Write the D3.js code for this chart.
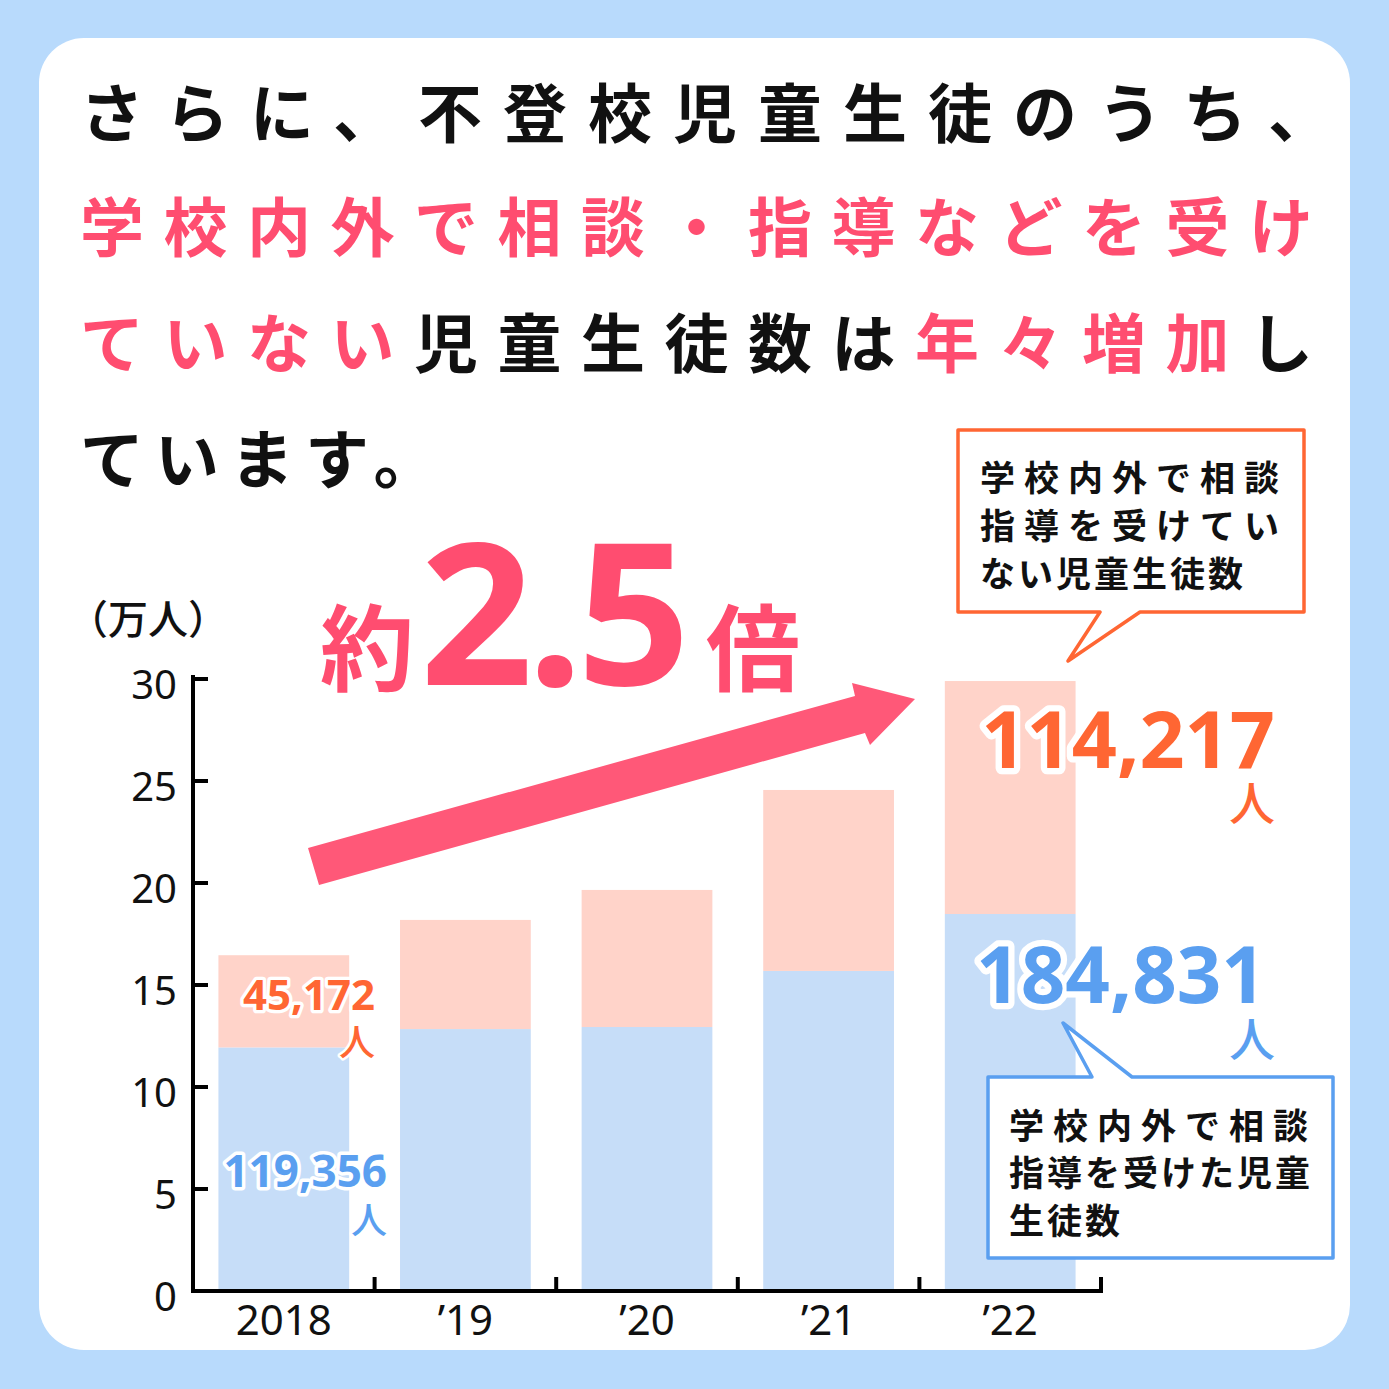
<!DOCTYPE html>
<html><head><meta charset="utf-8">
<script src="https://cdn.jsdelivr.net/npm/d3@7"></script>
<style>html,body{margin:0;padding:0;background:#b8dafc;}svg{display:block;}</style>
</head><body>
<script>
// ---- data ----
const years = ["2018", "’19", "’20", "’21", "’22"];
const guided = [11.94, 12.84, 12.94, 15.69, 18.48];     // 学校内外で相談・指導を受けた (万人)
const notGuided = [4.52, 5.35, 6.72, 8.87, 11.42];      // 受けていない (万人)
const yTicks = [0, 5, 10, 15, 20, 25, 30];
const unitLabel = "（万人）";
const titleLines = [
  [["さらに、不登校児童生徒のうち、", "k"]],
  [["学校内外で相談・指導などを受け", "p"]],
  [["ていない", "p"], ["児童生徒数は", "k"], ["年々増加", "p"], ["し", "k"]],
  [["ています。", "k"]]
];
const ratioText = ["約", "2.5", "倍"];
const labels2018 = { not: "45,172", guided: "119,356" };
const labels2022 = { not: "114,217", guided: "184,831" };
const calloutNot = ["学校内外で相談", "指導を受けてい", "ない児童生徒数"];
const calloutGuided = ["学校内外で相談", "指導を受けた児童", "生徒数"];

// ---- style ----
const W = 1389, H = 1389;
const PINK = "#ff4d70", ARROW = "#ff5878", ORANGE = "#ff6633", BLUE = "#5a9ff0";
const BAR_PINK = "#ffd3c9", BAR_BLUE = "#c6ddf8";
const JP = "'Noto Sans CJK JP', sans-serif";
const NUM = "'Noto Sans', sans-serif";

const svg = d3.select("body").append("svg").attr("width", W).attr("height", H);
svg.append("rect").attr("width", W).attr("height", H).attr("fill", "#b8dafc");
svg.append("rect").attr("x", 39).attr("y", 38).attr("width", 1311).attr("height", 1312)
  .attr("rx", 45).attr("fill", "#fff");

// ---- title ----
const titleY = [109, 223, 339, 455];
const titleSpacing = [21, 19.5, 19.5, 11];
titleLines.forEach((segs, i) => {
  const t = svg.append("text").attr("x", 80).attr("y", titleY[i])
    .attr("dominant-baseline", "central")
    .attr("font-family", JP).attr("font-weight", 700).attr("font-size", 64)
    .attr("letter-spacing", titleSpacing[i]);
  segs.forEach(([s, c]) => t.append("tspan").attr("fill", c === "p" ? PINK : "#111").text(s));
});

// ---- scales ----
const x = d3.scaleBand().domain(years).range([193, 1101]).paddingInner(0.28).paddingOuter(0.14);
const y = d3.scaleLinear().domain([0, 30]).range([1291, 679]);

// bars
const g = svg.append("g");
years.forEach((yr, i) => {
  g.append("rect").attr("x", x(yr)).attr("width", x.bandwidth())
    .attr("y", y(guided[i])).attr("height", y(0) - y(guided[i])).attr("fill", BAR_BLUE);
  g.append("rect").attr("x", x(yr)).attr("width", x.bandwidth())
    .attr("y", y(guided[i] + notGuided[i])).attr("height", y(0) - y(notGuided[i])).attr("fill", BAR_PINK);
});

// axes
const ax = svg.append("g").attr("stroke", "#000").attr("stroke-width", 4).attr("fill", "none");
ax.append("path").attr("d", `M${x.range()[0]},${y(30) - 2}V${y(0)}H${x.range()[1]}`).attr("stroke-linecap", "square");
yTicks.forEach(v => ax.append("line").attr("x1", 193).attr("x2", 208).attr("y1", y(v)).attr("y2", y(v)));
const step = x.step();
for (let k = 1; k <= years.length; k++) {
  const bx = x.range()[0] + k * step;
  ax.append("line").attr("x1", bx).attr("x2", bx).attr("y1", y(0)).attr("y2", y(0) - 14);
}
svg.append("g").selectAll("text").data(yTicks).join("text")
  .attr("x", 177).attr("y", d => y(d) + 4).attr("text-anchor", "end").attr("dominant-baseline", "central")
  .attr("font-family", NUM).attr("font-size", 40).attr("fill", "#111").text(d => d);
svg.append("g").selectAll("text").data(years).join("text")
  .attr("x", d => x(d) + x.bandwidth() / 2).attr("y", 1335).attr("text-anchor", "middle")
  .attr("font-family", NUM).attr("font-size", 42).attr("fill", "#111").text(d => d);
svg.append("text").attr("x", 68).attr("y", 617).attr("dominant-baseline", "central")
  .attr("font-family", JP).attr("font-weight", 500).attr("font-size", 40).attr("fill", "#111").text(unitLabel);

// ---- arrow ----
svg.append("path")
  .attr("d", "M308,848 L855,696 L852,683 L915,699 L870,745 L865,733 L319,885 Z")
  .attr("fill", ARROW);

// ratio text
svg.append("text").attr("x", 320).attr("y", 684).attr("font-family", JP).attr("font-weight", 700)
  .attr("font-size", 94).attr("fill", PINK).text(ratioText[0]);
svg.append("text").attr("x", 420).attr("y", 685).attr("font-family", NUM).attr("font-weight", 700)
  .attr("font-size", 198).attr("letter-spacing", -6).attr("fill", PINK).text(ratioText[1]);
svg.append("text").attr("x", 706).attr("y", 684).attr("font-family", JP).attr("font-weight", 700)
  .attr("font-size", 94).attr("fill", PINK).text(ratioText[2]);

// ---- value labels ----
function label(txt, xr, yb, size, color) {
  svg.append("text").attr("x", xr).attr("y", yb).attr("text-anchor", "end")
    .attr("font-family", NUM).attr("font-weight", 700).attr("font-size", size)
    .attr("fill", color).attr("stroke", "#fff").attr("stroke-width", size * 0.16)
    .attr("stroke-linejoin", "round").attr("paint-order", "stroke").text(txt);
}
function person(xr, yc, size, color) {
  svg.append("text").attr("x", xr).attr("y", yc).attr("text-anchor", "end").attr("dominant-baseline", "central")
    .attr("font-family", JP).attr("font-weight", 500).attr("font-size", size)
    .attr("fill", color).attr("stroke", "#fff").attr("stroke-width", size * 0.14)
    .attr("stroke-linejoin", "round").attr("paint-order", "stroke").text("人");
}
label(labels2018.not, 375, 1010, 42, ORANGE); person(375, 1040, 36, ORANGE);
label(labels2018.guided, 387, 1187, 44, BLUE); person(387, 1218, 36, BLUE);
label(labels2022.not, 1275, 768, 79, ORANGE); person(1275, 800, 46, ORANGE);
label(labels2022.guided, 1266, 1003, 78, BLUE); person(1275, 1036, 46, BLUE);

// ---- callouts ----
svg.append("path").attr("d", "M958,430 H1304 V612 H1140 L1068,661 L1100,612 H958 Z")
  .attr("fill", "#fff").attr("stroke", ORANGE).attr("stroke-width", 3.5).attr("stroke-linejoin", "round");
svg.append("path").attr("d", "M988,1077 H1092 L1063,1023 L1132,1077 H1333 V1258 H988 Z")
  .attr("fill", "#fff").attr("stroke", BLUE).attr("stroke-width", 3.5).attr("stroke-linejoin", "round");
function callText(lines, x0, ys, spacings) {
  lines.forEach((s, i) => svg.append("text").attr("x", x0).attr("y", ys[i]).attr("dominant-baseline", "central")
    .attr("font-family", JP).attr("font-weight", 700).attr("font-size", 35)
    .attr("letter-spacing", spacings[i]).attr("fill", "#111").text(s));
}
callText(calloutNot, 980, [475, 523, 571], [9, 9, 3]);
callText(calloutGuided, 1009, [1123, 1170, 1218], [9, 3, 3]);
</script>
</body></html>
